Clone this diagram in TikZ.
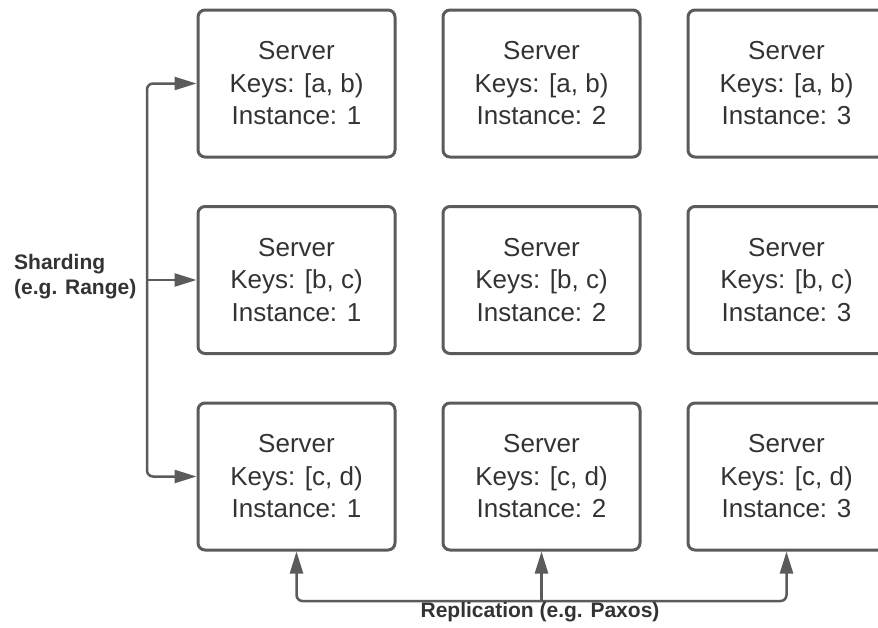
\documentclass[tikz,border=0pt]{standalone}
\usepackage{fontspec}
\setmainfont{Liberation Sans}
\usetikzlibrary{arrows.meta}
\definecolor{txt}{HTML}{333333}
\definecolor{edge}{HTML}{5B5B5B}
\begin{document}
\begin{tikzpicture}[x=1pt,y=-1pt,
  server/.style={draw=edge, line width=3pt, rounded corners=7pt, minimum width=197pt, minimum height=147pt, inner sep=0pt, align=center, text=txt, font=\fontsize{26}{32.5}\selectfont},
  conn/.style={draw=edge, line width=2.5pt, rounded corners=6pt},
  tip/.style={-{Triangle[length=22pt,width=13pt]}},
  lbl/.style={text=txt, inner sep=0pt, font=\bfseries\fontsize{21}{25}\selectfont}
]
\useasboundingbox (0,0) rectangle (878,627);
\clip (0,0) rectangle (878,627);
\foreach \c/\x in {1/296.5,2/541.5,3/786.5}{
  \node[server] (a\c) at (\x,83.5) {Server\\Keys: [a, b)\\Instance: \c};
  \node[server] (b\c) at (\x,280) {Server\\Keys: [b, c)\\Instance: \c};
  \node[server] (c\c) at (\x,476.5) {Server\\Keys: [c, d)\\Instance: \c};
}
\coordinate (sx) at (147,0);
\coordinate (ry) at (0,601);
\draw[conn, {Triangle[length=22pt,width=13pt]}-{Triangle[length=22pt,width=13pt]}]
  (a1.west) -- (a1.west -| sx) -- (c1.west -| sx) -- (c1.west);
\draw[conn, tip] (b1.west -| sx) -- (b1.west);
\draw[conn, {Triangle[length=22pt,width=13pt]}-{Triangle[length=22pt,width=13pt]}]
  (c1.south) -- (c1.south |- ry) -- (c3.south |- ry) -- (c3.south);
\draw[conn, tip] (c2.south |- ry) -- (c2.south);
\node[lbl, anchor=west, align=left] (shard) at (14,277) {Sharding\\(e.g. Range)};
\node[lbl] (repl) at (540,612) {Replication (e.g. Paxos)};
\end{tikzpicture}
\end{document}
